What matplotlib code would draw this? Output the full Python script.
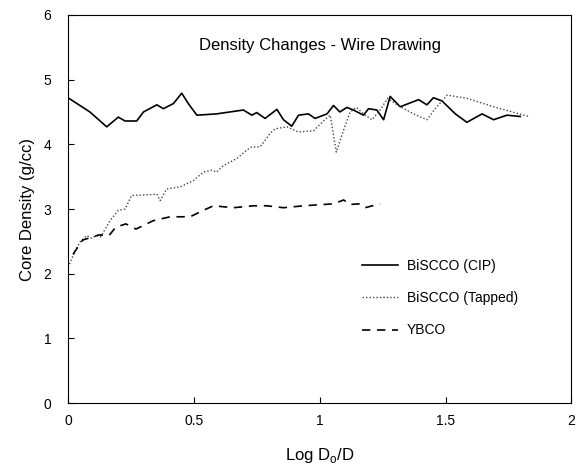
import numpy as np
import matplotlib.pyplot as plt

plt.rcParams['font.family'] = ['Liberation Sans', 'DejaVu Sans']
plt.rcParams['mathtext.fontset'] = 'custom'
plt.rcParams['mathtext.rm'] = 'Liberation Sans'

# BiSCCO (CIP)
cip_x = [0.0, 0.087, 0.154, 0.20, 0.227, 0.273, 0.30, 0.353, 0.379, 0.419, 0.452, 0.478,
         0.512, 0.59, 0.697, 0.73, 0.75, 0.783, 0.83, 0.856, 0.889, 0.916, 0.955, 0.982,
         1.029, 1.055, 1.08, 1.108, 1.134, 1.174, 1.194, 1.227, 1.254, 1.28, 1.32, 1.353,
         1.393, 1.426, 1.452, 1.486, 1.539, 1.585, 1.645, 1.691, 1.744, 1.797]
cip_y = [4.72, 4.50, 4.27, 4.42, 4.36, 4.36, 4.50, 4.61, 4.55, 4.63, 4.79, 4.63,
         4.45, 4.47, 4.53, 4.45, 4.49, 4.40, 4.54, 4.38, 4.28, 4.45, 4.47, 4.40,
         4.47, 4.60, 4.50, 4.57, 4.53, 4.45, 4.55, 4.53, 4.38, 4.74, 4.58, 4.63,
         4.69, 4.61, 4.72, 4.67, 4.47, 4.34, 4.47, 4.38, 4.45, 4.43]

# BiSCCO (Tapped)
tap_x = [0.0, 0.032, 0.048, 0.074, 0.094, 0.114, 0.13, 0.167, 0.20, 0.227, 0.253, 0.319,
         0.353, 0.366, 0.392, 0.445, 0.498, 0.538, 0.571, 0.59, 0.617, 0.671, 0.71, 0.73,
         0.763, 0.783, 0.803, 0.823, 0.87, 0.916, 0.976, 1.015, 1.042, 1.066, 1.095, 1.121,
         1.147, 1.174, 1.208, 1.24, 1.27, 1.32, 1.373, 1.426, 1.459, 1.506, 1.585, 1.691, 1.83]
tap_y = [2.10, 2.38, 2.49, 2.59, 2.55, 2.59, 2.57, 2.82, 2.98, 3.00, 3.21, 3.22,
         3.23, 3.13, 3.31, 3.34, 3.44, 3.57, 3.60, 3.57, 3.67, 3.78, 3.91, 3.96,
         3.96, 4.06, 4.17, 4.24, 4.27, 4.19, 4.21, 4.36, 4.45, 3.88, 4.22, 4.50,
         4.57, 4.47, 4.38, 4.53, 4.71, 4.58, 4.47, 4.38, 4.55, 4.76, 4.71, 4.58, 4.43]

# YBCO
ybco_x = [0.02, 0.058, 0.123, 0.163, 0.19, 0.23, 0.27, 0.339, 0.406, 0.485, 0.538, 0.578,
          0.657, 0.737, 0.79, 0.856, 0.936, 1.015, 1.055, 1.095, 1.121, 1.154, 1.18, 1.24]
ybco_y = [2.30, 2.52, 2.60, 2.59, 2.72, 2.77, 2.69, 2.82, 2.88, 2.88, 2.98, 3.05,
          3.02, 3.05, 3.05, 3.02, 3.05, 3.07, 3.08, 3.14, 3.07, 3.08, 3.02, 3.08]

fig = plt.figure(figsize=(5.84, 4.65), dpi=100)
ax = fig.add_axes([0.1164, 0.133, 0.862, 0.835])

ax.plot(cip_x, cip_y, color='black', lw=1.2, ls='-', label='BiSCCO (CIP)')
ax.plot(tap_x, tap_y, color='#444444', lw=1.0, ls=(0, (1, 1.5)), label='BiSCCO (Tapped)')
ax.plot(ybco_x, ybco_y, color='black', lw=1.2, ls=(0, (5, 4)), label='YBCO')

ax.set_xlim(0, 2)
ax.set_ylim(0, 6)
ax.set_xticks([0, 0.5, 1, 1.5, 2])
ax.set_xticklabels(['0', '0.5', '1', '1.5', '2'])
ax.set_yticks([0, 1, 2, 3, 4, 5, 6])
ax.tick_params(direction='in', length=4, labelsize=10, colors='black')
ax.tick_params(axis='y', pad=12)
ax.tick_params(axis='x', pad=8)

ax.text(0.5, 0.92, 'Density Changes - Wire Drawing', transform=ax.transAxes,
        ha='center', va='center', fontsize=12)
ax.set_xlabel('Log D$_\\mathregular{o}$/D', fontsize=12, labelpad=13)
ax.set_ylabel('Core Density (g/cc)', fontsize=12, labelpad=6)

ax.legend(loc='center left', bbox_to_anchor=(0.56, 0.27), frameon=False, fontsize=10,
          handlelength=2.6, labelspacing=1.3, handletextpad=0.6)

fig.savefig('out.png', dpi=100)
